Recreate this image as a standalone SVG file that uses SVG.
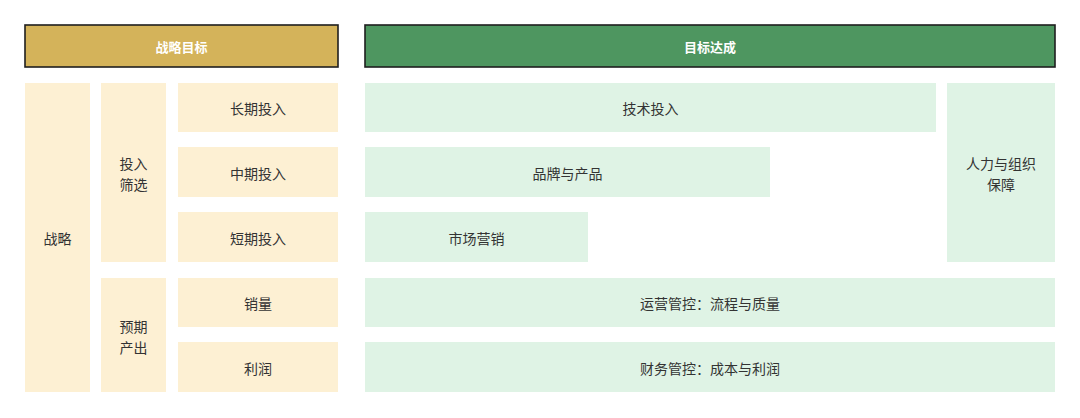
<svg xmlns="http://www.w3.org/2000/svg" width="1080" height="418" viewBox="0 0 1080 418">
<style>
.hdr{stroke:#1f1f1f;stroke-width:1.6}
.y{fill:#FDF0D3}
.g{fill:#DFF3E5}
text{font-family:"Noto Sans CJK SC","Liberation Sans",sans-serif;font-size:14px;fill:#333;text-anchor:middle;dominant-baseline:central}
.ht{fill:#fff;font-weight:bold;font-size:13px}
</style>
<rect width="1080" height="418" fill="#fff"/>
<g id="hdr-left"><rect class="hdr" x="25" y="25" width="313" height="42" fill="#D4B35A"/><text class="ht" x="181.5" y="46">战略目标</text></g>
<g id="hdr-right"><rect class="hdr" x="365" y="25" width="690" height="42" fill="#4E9660"/><text class="ht" x="710" y="46">目标达成</text></g>
<g id="zhanlue"><rect class="y" x="25" y="83" width="65" height="309"/><text x="57.5" y="238">战略</text></g>
<g id="touru"><rect class="y" x="101" y="83" width="65" height="179"/><text x="133.5" y="163">投入</text><text x="133.5" y="184">筛选</text></g>
<g id="yuqi"><rect class="y" x="101" y="278" width="65" height="114"/><text x="133.5" y="326">预期</text><text x="133.5" y="347">产出</text></g>
<g id="changqi"><rect class="y" x="178" y="83" width="160" height="49"/><text x="258" y="108">长期投入</text></g>
<g id="zhongqi"><rect class="y" x="178" y="147" width="160" height="50"/><text x="258" y="172.5">中期投入</text></g>
<g id="duanqi"><rect class="y" x="178" y="212" width="160" height="50"/><text x="258" y="237.5">短期投入</text></g>
<g id="xiaoliang"><rect class="y" x="178" y="278" width="160" height="49"/><text x="258" y="303">销量</text></g>
<g id="lirun"><rect class="y" x="178" y="342" width="160" height="50"/><text x="258" y="368">利润</text></g>
<g id="jishu"><rect class="g" x="365" y="83" width="571" height="49"/><text x="650.5" y="108">技术投入</text></g>
<g id="pinpai"><rect class="g" x="365" y="147" width="405" height="50"/><text x="567.5" y="172.5">品牌与产品</text></g>
<g id="shichang"><rect class="g" x="365" y="212" width="223" height="50"/><text x="476.5" y="237.5">市场营销</text></g>
<g id="renli"><rect class="g" x="947" y="83" width="108" height="179"/><text x="1001" y="163">人力与组织</text><text x="1001" y="184">保障</text></g>
<g id="yunying"><rect class="g" x="365" y="278" width="690" height="49"/><text x="710" y="303">运营管控：流程与质量</text></g>
<g id="caiwu"><rect class="g" x="365" y="342" width="690" height="50"/><text x="710" y="368">财务管控：成本与利润</text></g>
<g id="connectors"></g>
</svg>
